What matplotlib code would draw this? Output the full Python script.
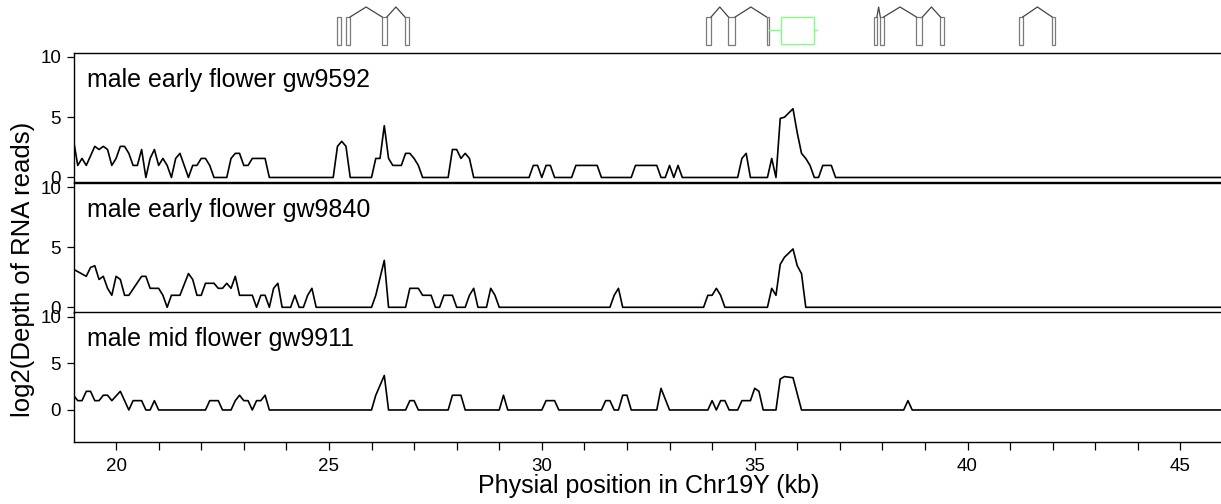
import numpy as np
import matplotlib
matplotlib.use("Agg")
import matplotlib.pyplot as plt
from matplotlib.patches import Rectangle

plt.rcParams.update({"font.family": ["Liberation Sans", "DejaVu Sans"]})

XMIN, XMAX = 19.0, 46.0

# coverage breakpoints (kb, log2 depth) per sample
S1_NAME = "male early flower gw9592"
S1_X = [19.0, 19.1, 19.2, 19.3, 19.5, 19.6, 19.7, 19.8, 19.9, 20.0, 20.1, 20.2, 20.3, 20.4, 20.5,
        20.6, 20.7, 20.8, 20.9, 21.0, 21.1, 21.2, 21.3, 21.4, 21.5, 21.6, 21.7, 21.8, 21.9, 22.0,
        22.1, 22.2, 22.3, 22.6, 22.7, 22.8, 22.9, 23.0, 23.1, 23.2, 23.5, 23.6, 25.1, 25.2, 25.3,
        25.4, 25.5, 26.0, 26.1, 26.2, 26.3, 26.4, 26.5, 26.7, 26.8, 26.9, 27.0, 27.1, 27.2, 27.8,
        27.9, 28.0, 28.1, 28.2, 28.3, 28.4, 29.7, 29.8, 29.9, 30.0, 30.1, 30.2, 30.3, 30.7, 30.8,
        31.3, 31.4, 32.1, 32.2, 32.7, 32.8, 32.9, 33.0, 33.1, 33.2, 33.3, 34.6, 34.7, 34.8, 34.9,
        35.3, 35.4, 35.5, 35.6, 35.7, 35.9, 36.0, 36.1, 36.2, 36.3, 36.4, 36.5, 36.6, 36.8, 36.9,
        46.0]
S1_Y = [3.1, 1.0, 1.58, 1.0, 2.58, 2.32, 2.58, 2.32, 1.0, 1.58, 2.58, 2.58, 2.0, 1.0, 1.0,
        2.32, 0, 1.58, 2.32, 1.0, 1.58, 1.0, 0, 1.58, 2.0, 1.0, 0, 1.0, 1.0, 1.58,
        1.58, 1.0, 0, 0, 1.58, 2.0, 2.0, 1.0, 1.0, 1.58, 1.58, 0, 0, 2.58, 3.0,
        2.58, 0, 0, 1.58, 1.58, 4.3, 1.58, 1.0, 1.0, 2.0, 2.0, 1.58, 1.0, 0, 0,
        2.32, 2.32, 1.58, 2.0, 1.58, 0, 0, 1.0, 1.0, 0, 1.0, 1.0, 0, 0, 1.0,
        1.0, 0, 0, 1.0, 1.0, 0, 0, 1.0, 0, 1.0, 0, 0, 1.58, 2.0, 0,
        0, 1.58, 0, 4.9, 5.0, 5.7, 3.7, 2.0, 1.58, 1.0, 0, 0, 1.0, 1.0, 0,
        0]

S2_NAME = "male early flower gw9840"
S2_X = [19.0, 19.3, 19.4, 19.5, 19.6, 19.7, 19.8, 19.9, 20.0, 20.1, 20.2, 20.3, 20.6, 20.7, 20.8,
        21.0, 21.1, 21.2, 21.3, 21.5, 21.7, 21.8, 21.9, 22.0, 22.1, 22.3, 22.4, 22.5, 22.6, 22.7,
        22.8, 22.9, 23.2, 23.3, 23.4, 23.5, 23.6, 23.7, 23.8, 23.9, 24.1, 24.2, 24.3, 24.4, 24.5,
        24.6, 24.7, 26.0, 26.1, 26.3, 26.4, 26.8, 26.9, 27.1, 27.2, 27.4, 27.5, 27.6, 27.7, 27.9,
        28.0, 28.2, 28.3, 28.4, 28.5, 28.7, 28.8, 28.9, 29.0, 31.6, 31.7, 31.8, 31.9, 33.8, 33.9,
        34.0, 34.1, 34.2, 34.3, 35.3, 35.4, 35.5, 35.6, 35.7, 35.9, 36.0, 36.1, 36.2, 46.0]
S2_Y = [3.17, 2.58, 3.32, 3.46, 2.32, 2.58, 1.58, 1.0, 2.58, 2.32, 1.0, 1.0, 2.58, 2.58, 1.58,
        1.58, 1.0, 0, 1.0, 1.0, 2.81, 2.32, 1.0, 1.0, 2.0, 2.0, 1.58, 1.58, 2.0, 1.58,
        2.58, 1.0, 1.0, 0, 1.0, 1.0, 0, 1.58, 2.0, 0, 0, 1.0, 0, 0, 1.0,
        1.58, 0, 0, 1.0, 3.91, 0, 0, 1.58, 1.58, 1.0, 1.0, 0, 0, 1.0, 1.0,
        0, 0, 1.0, 1.58, 0, 0, 1.58, 1.0, 0, 0, 1.0, 1.58, 0, 0, 1.0,
        1.0, 1.58, 1.0, 0, 0, 1.58, 1.0, 3.58, 4.17, 4.86, 3.46, 2.81, 0, 0]

S3_NAME = "male mid flower gw9911"
S3_X = [19.0, 19.1, 19.2, 19.3, 19.4, 19.5, 19.6, 19.7, 19.8, 19.9, 20.1, 20.2, 20.3, 20.4, 20.6,
        20.7, 20.8, 20.9, 21.0, 22.1, 22.2, 22.4, 22.5, 22.7, 22.8, 22.9, 23.0, 23.1, 23.2, 23.3,
        23.4, 23.5, 23.6, 26.0, 26.1, 26.3, 26.4, 26.8, 26.9, 27.0, 27.1, 27.8, 27.9, 28.1, 28.2,
        29.0, 29.1, 29.2, 30.0, 30.1, 30.3, 30.4, 31.4, 31.5, 31.6, 31.7, 31.8, 31.9, 32.0, 32.1,
        32.7, 32.8, 33.0, 33.9, 34.0, 34.1, 34.2, 34.3, 34.4, 34.6, 34.7, 34.9, 35.0, 35.1, 35.2,
        35.5, 35.6, 35.7, 35.9, 36.1, 38.5, 38.6, 38.7, 46.0]
S3_Y = [1.58, 1.0, 1.0, 2.0, 2.0, 1.0, 1.0, 1.58, 1.58, 1.0, 2.0, 1.0, 0, 1.0, 1.0,
        0, 0, 1.0, 0, 0, 1.0, 1.0, 0, 0, 1.0, 1.58, 1.0, 1.0, 0, 1.0,
        1.0, 1.58, 0, 0, 1.58, 3.7, 0, 0, 1.0, 1.0, 0, 0, 1.58, 1.58, 0,
        0, 1.58, 0, 0, 1.0, 1.0, 0, 0, 1.0, 1.0, 0, 0, 1.58, 1.58, 0,
        0, 2.32, 0, 0, 1.0, 0, 1.0, 1.0, 0, 0, 1.0, 1.0, 2.32, 2.0, 0,
        0, 3.32, 3.58, 3.46, 0, 0, 1.0, 0, 0]

# gene models (kb): exons and introns per gene
GENE_EXONS = [
    [(25.197, 25.277), (25.402, 25.496), (26.250, 26.361), (26.785, 26.879)],
    [(33.866, 33.976), (34.384, 34.542), (35.279, 35.343)],
    [(37.793, 37.871), (37.951, 38.029), (38.799, 38.940), (39.364, 39.442)],
    [(41.216, 41.296), (41.986, 42.064)],
]
GENE_INTRONS = [
    [(25.496, 26.250), (26.361, 26.785)],
    [(33.976, 34.384), (34.542, 35.279)],
    [(37.871, 37.951), (38.029, 38.799), (38.940, 39.364)],
    [(41.296, 41.986)],
]
# highlighted (green) element: box and its flanking lines
GREEN_BOX = (35.609, 36.396)
GREEN_LINES = [(35.343, 35.609), (36.396, 36.457)]

W, H = 1221, 504


def px_axes(fig, top, bottom, left=73.5, right=1223):
    return fig.add_axes([left / W, 1 - bottom / H, (right - left) / W, (bottom - top) / H])


def gene_track(ax):
    ax.set_xlim(XMIN, XMAX)
    ax.set_ylim(52, 0)
    ax.axis("off")
    ex_top, ex_bot, peak = 17, 45, 7
    for exons, introns in zip(GENE_EXONS, GENE_INTRONS):
        for s, e in introns:
            ax.plot([s, (s + e) / 2, e], [ex_top, peak, ex_top], color="#444444", lw=0.9)
        for s, e in exons:
            ax.add_patch(Rectangle((s, ex_top), e - s, ex_bot - ex_top, facecolor="white",
                                   edgecolor="#7a7a7a", lw=0.9))
    g = "#80ff80"
    for s, e in GREEN_LINES:
        ax.plot([s, e], [30, 30], color=g, lw=1.0)
    s, e = GREEN_BOX
    ax.add_patch(Rectangle((s, ex_top), e - s, 44 - ex_top, facecolor="white", edgecolor=g, lw=1.0))


def coverage(ax, x, y, name, ylim, bottom=False):
    ax.plot(x, y, color="black", lw=1.2)
    ax.set_xlim(XMIN, XMAX)
    ax.set_ylim(*ylim)
    ax.set_yticks([0, 5, 10])
    ax.tick_params(axis="y", direction="out", length=5, width=0.9, labelsize=13.5, pad=4)
    for sp in ax.spines.values():
        sp.set_linewidth(1.0)
    ax.spines["right"].set_visible(False)
    ax.text(0.0115, 0.736, name, transform=ax.transAxes, fontsize=18, va="baseline")
    if bottom:
        ax.set_xticks(np.arange(20, 46, 1))
        ax.set_xticklabels([str(t) if t % 5 == 0 else "" for t in range(20, 46)])
        ax.tick_params(axis="x", direction="out", length=6, width=0.9, labelsize=13.5, pad=6)
        ax.set_xlabel("Physial position in Chr19Y (kb)", fontsize=18, labelpad=-1)
    else:
        ax.set_xticks([])


fig = plt.figure(figsize=(W / 100, H / 100), dpi=100)

gene_track(px_axes(fig, 0, 52))
coverage(px_axes(fig, 52.7, 182.3), S1_X, S1_Y, S1_NAME, (-0.4, 10.35))
coverage(px_axes(fig, 182.7, 312.7), S2_X, S2_Y, S2_NAME, (-0.45, 10.38))
ax3 = px_axes(fig, 312.3, 441.7)
coverage(ax3, S3_X, S3_Y, S3_NAME, (-3.4, 10.47), bottom=True)

fig.text(23 / W, 1 - 269 / H, "log2(Depth of RNA reads)", rotation=90, fontsize=18.5,
         ha="center", va="center")

fig.savefig("out.png", dpi=100)
